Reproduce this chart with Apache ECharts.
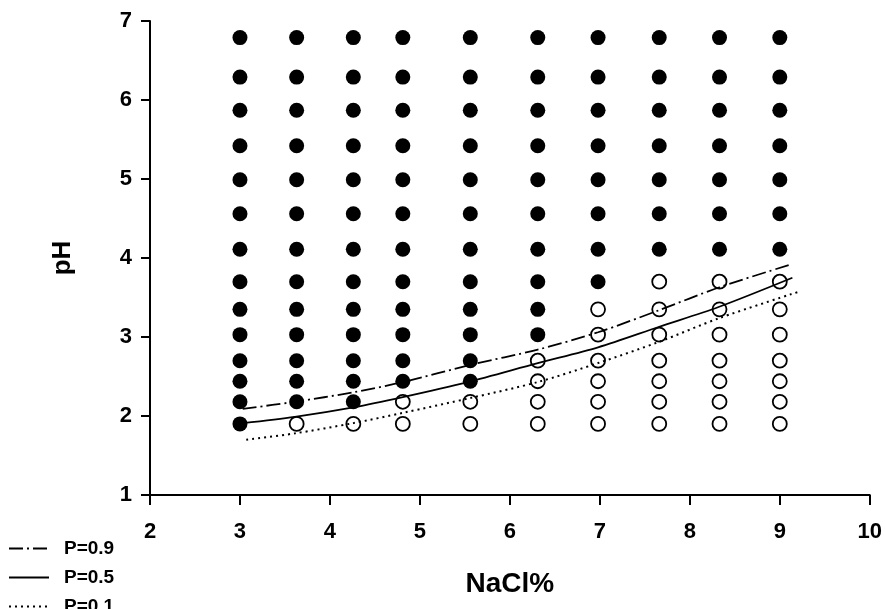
<!DOCTYPE html>
<html>
<head>
<meta charset="utf-8">
<script src="https://cdn.jsdelivr.net/npm/echarts@6/dist/echarts.min.js"></script>
<style>
  html, body { margin: 0; padding: 0; background: #fff; }
  #chart { width: 885px; height: 609px; }
</style>
</head>
<body>
<div id="chart"></div>
<script>
// NaCl levels (columns) and pH levels (rows) of the test grid
const naclLevels = [3.0, 3.63, 4.26, 4.81, 5.56, 6.31, 6.98, 7.66, 8.33, 9.0]
const phLevels = [1.9, 2.18, 2.44, 2.7, 3.03, 3.35, 3.7, 4.11, 4.56, 4.99, 5.42, 5.87, 6.29, 6.79]
// lowest pH with growth at each NaCl level
const growthLimit = [1.9, 2.18, 2.18, 2.44, 2.44, 3.03, 3.7, 4.11, 4.11, 4.11]

// probability boundaries [NaCl, pH]
const p09 = [[3.03, 2.09], [3.61, 2.18], [4.26, 2.30], [4.81, 2.43], [5.57, 2.65], [6.31, 2.84], [6.98, 3.06], [7.66, 3.34], [8.33, 3.63], [9.1, 3.91]]
const p05 = [[3.03, 1.91], [3.61, 1.99], [4.26, 2.11], [4.81, 2.24], [5.53, 2.43], [6.31, 2.67], [6.98, 2.87], [7.66, 3.13], [8.32, 3.38], [9.14, 3.75]]
const p01 = [[3.07, 1.70], [3.61, 1.78], [4.26, 1.91], [4.81, 2.04], [5.57, 2.23], [6.31, 2.43], [6.98, 2.67], [7.66, 2.94], [8.33, 3.24], [9.23, 3.58]]

const growth = []
const noGrowth = []
naclLevels.forEach((x, i) => {
  phLevels.forEach(y => {
    if (y >= growthLimit[i] - 0.001) growth.push([x, y])
    else noGrowth.push([x, y])
  })
})

const font = 'Liberation Sans, Arial, sans-serif'
const chart = echarts.init(document.getElementById('chart'))

const curve = (name, data, type, width) => ({
  name,
  type: 'line',
  data,
  smooth: 0.3,
  symbol: 'none',
  z: 3,
  lineStyle: { color: '#000', width, type },
  itemStyle: { color: '#000' }
})

chart.setOption({
  animation: false,
  backgroundColor: '#fff',
  grid: { left: 150, right: 15, top: 21, bottom: 114 },
  xAxis: {
    type: 'value',
    min: 2, max: 10, interval: 1,
    name: 'NaCl%',
    nameLocation: 'middle',
    nameGap: 75,
    nameTextStyle: { fontFamily: font, fontWeight: 'bold', fontSize: 28, color: '#000' },
    axisLine: { lineStyle: { color: '#000', width: 2 } },
    axisTick: { length: 10, lineStyle: { color: '#000', width: 2 } },
    axisLabel: { margin: 26, fontFamily: font, fontWeight: 'bold', fontSize: 22, color: '#000' },
    splitLine: { show: false }
  },
  yAxis: {
    type: 'value',
    min: 1, max: 7, interval: 1,
    name: 'pH',
    nameLocation: 'middle',
    nameRotate: 90,
    nameGap: 74,
    nameTextStyle: { fontFamily: font, fontWeight: 'bold', fontSize: 26, color: '#000' },
    axisLine: { show: true, lineStyle: { color: '#000', width: 2 } },
    axisTick: { show: true, length: 9, lineStyle: { color: '#000', width: 2 } },
    axisLabel: { margin: 18, fontFamily: font, fontWeight: 'bold', fontSize: 22, color: '#000' },
    splitLine: { show: false }
  },
  legend: {
    data: ['P=0.9', 'P=0.5', 'P=0.1'],
    orient: 'vertical',
    left: 8,
    top: 539,
    height: 120,
    padding: 0,
    itemWidth: 40,
    itemHeight: 19,
    itemGap: 10,
    itemStyle: { opacity: 0 },
    textStyle: { fontFamily: font, fontWeight: 'bold', fontSize: 19, color: '#000', padding: [0, 0, 0, 10] }
  },
  series: [
    {
      name: 'growth',
      type: 'scatter',
      data: growth,
      symbolSize: 15,
      itemStyle: { color: '#000', opacity: 1 },
      z: 2
    },
    {
      name: 'no growth',
      type: 'scatter',
      data: noGrowth,
      symbolSize: 14,
      itemStyle: { color: '#fff', borderColor: '#000', borderWidth: 1.8, opacity: 1 },
      z: 2
    },
    curve('P=0.9', p09, [14, 4, 2, 4], 1.8),
    curve('P=0.5', p05, 'solid', 1.8),
    curve('P=0.1', p01, [2, 4], 2)
  ]
})
</script>
</body>
</html>
